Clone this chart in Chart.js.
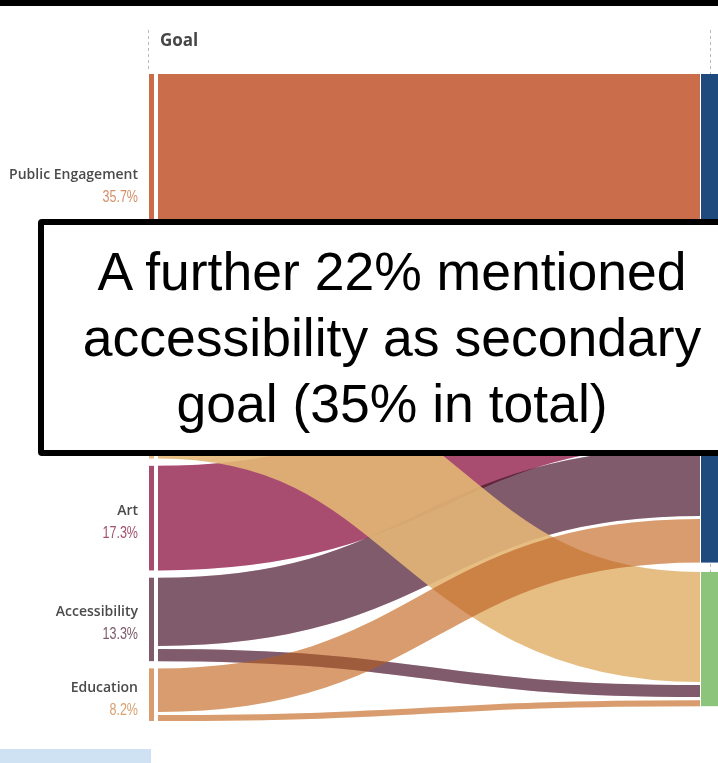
<!DOCTYPE html>
<html><head><meta charset="utf-8">
<script src="https://cdn.jsdelivr.net/npm/chart.js@4/dist/chart.umd.min.js"></script>
<style>
html,body{margin:0;padding:0;width:718px;height:763px;overflow:hidden;background:#fff;}
#stage{position:relative;width:718px;height:763px;}
#chart{position:absolute;left:0;top:0;}
#topbar{position:absolute;left:0;top:0;width:718px;height:6px;background:#000;}
#note{position:absolute;left:38px;top:219px;width:708px;height:237px;box-sizing:border-box;border:6px solid #000;border-radius:4px;background:#fff;
 font-family:"Liberation Sans",Arial,sans-serif;font-size:53.5px;line-height:66px;text-align:center;color:#000;padding-top:14px;white-space:nowrap;}
#strip{position:absolute;left:0;top:749px;width:151px;height:14px;background:#cfe2f3;}
</style></head>
<body>
<div id="stage">
<canvas id="chart" width="718" height="763"></canvas>
<div id="topbar"></div>
<div id="note">A further 22% mentioned<br>accessibility as secondary<br>goal (35% in total)</div>
<div id="strip"></div>
</div>
<script>
// ---- data (percent of respondents) ----
const columnTitle = 'Goal';
// left column: primary goal (the two middle categories are covered by the annotation box)
const goals = ['Public Engagement', '', '', 'Art', 'Accessibility', 'Education'];
const goalShares = [35.7, 7.3, 18.2, 17.3, 13.3, 8.2];
// right column (its labels are cut off at the picture edge)
const secondary = ['Not accessibility', 'Accessibility'];
// flows from each goal to each right-hand node
const toFirst  = [35.7, 7.3, 0, 17.3, 11.3, 7.2];
const toSecond = [0, 0, 18.2, 0, 2.0, 1.0];

// ---- style ----
const goalColors = ['#C96C4A', '#D9A36E', '#E6BE85', '#A84C6F', '#7F5A6A', '#D99C6E'];
const pctColors  = ['#D48E68', '#D8A86A', '#D8A86A', '#A4506F', '#7C5A6A', '#D9A070'];
const secColors  = ['#1F4A7E', '#8DC47B'];
const drawOrder  = [0, 1, 3, 4, 2, 5];
const blendMode  = ['mix', 'mix', 'alpha', 'mix', 'mix', 'mix'];
const LINK_PAD = 0.5, GAP_L = 1.2, GAP_R = 1.55;

// ---- layout in value units ----
const flows = [];
goals.forEach((g, i) => {
  [toFirst[i], toSecond[i]].forEach((v, t) => { if (v > 0) flows.push({s: i, t, v}); });
});
const leftNodes = [];
let y = 0;
goals.forEach((g, i) => {
  const y0 = y; let yy = y;
  flows.filter(f => f.s === i).forEach(f => { f.sy0 = yy; f.sy1 = yy + f.v; yy += f.v + LINK_PAD; });
  const y1 = yy - LINK_PAD;
  leftNodes.push({y0, y1}); y = y1 + GAP_L;
});
const leftTotal = y - GAP_L;
const rightNodes = [];
y = 0;
secondary.forEach((n, t) => {
  const y0 = y; let yy = y;
  flows.filter(f => f.t === t).forEach(f => { f.ty0 = yy; f.ty1 = yy + f.v; yy += f.v + LINK_PAD; });
  const y1 = yy - LINK_PAD;
  rightNodes.push({y0, y1}); y = y1 + GAP_R;
});

function rgb(hex) { return [1, 3, 5].map(p => parseInt(hex.substr(p, 2), 16)); }
const clamp = v => Math.max(0, Math.min(255, Math.round(v)));
// colour that gives `hex` on white after a 50% normal + 50% multiply pass
function mixSrc(hex) { const c = rgb(hex).map(t => clamp(Math.sqrt(1020 * t) - 255)); return `rgb(${c})`; }
// colour that gives `hex` on white at alpha a
function alphaSrc(hex, a) { const c = rgb(hex).map(t => clamp((t - (1 - a) * 255) / a)); return `rgb(${c})`; }

const sankeyPlugin = {
  id: 'sankey',
  beforeDatasetsDraw(chart) {
    const ctx = chart.ctx, xs = chart.scales.x, ys = chart.scales.y;
    const xL = xs.getPixelForValue(0), xR = xs.getPixelForValue(1);
    const fx0 = xL + 9, fx1 = xR - 18, xm = (fx0 + fx1) / 2;
    const top = ys.getPixelForValue(0);
    ctx.save();
    // dashed column guides
    ctx.strokeStyle = '#b8b8b8'; ctx.lineWidth = 1; ctx.setLineDash([3, 3]);
    ctx.beginPath(); ctx.moveTo(xL - 0.5, 30); ctx.lineTo(xL - 0.5, top - 2);
    ctx.moveTo(xR - 7.5, 30); ctx.lineTo(xR - 7.5, ys.getPixelForValue(rightNodes[rightNodes.length-1].y1));
    ctx.stroke(); ctx.setLineDash([]);
    // header
    ctx.fillStyle = '#474747'; ctx.font = '700 17px "Open Sans"'; ctx.textAlign = 'left'; ctx.textBaseline = 'alphabetic';
    ctx.fillText(columnTitle, xL + 11, 46);
    // flows: thick bezier ribbons
    ctx.lineCap = 'butt';
    drawOrder.forEach(s => {
      flows.filter(f => f.s === s).forEach(f => {
        const a = ys.getPixelForValue((f.sy0 + f.sy1) / 2);
        const b = ys.getPixelForValue((f.ty0 + f.ty1) / 2);
        const w = Math.abs(ys.getPixelForValue(f.sy1) - ys.getPixelForValue(f.sy0));
        const passes = blendMode[s] === 'alpha'
          ? [['source-over', 0.9, alphaSrc(goalColors[s], 0.9)]]
          : [['source-over', 0.5, mixSrc(goalColors[s])], ['multiply', 0.5, mixSrc(goalColors[s])]];
        passes.forEach(([op, al, col]) => {
          ctx.globalCompositeOperation = op; ctx.globalAlpha = al;
          ctx.beginPath(); ctx.moveTo(fx0, a); ctx.bezierCurveTo(xm, a, xm, b, fx1, b);
          ctx.strokeStyle = col; ctx.lineWidth = w; ctx.stroke();
        });
      });
    });
    ctx.globalCompositeOperation = 'source-over'; ctx.globalAlpha = 1;
    // nodes
    leftNodes.forEach((n, i) => {
      const p0 = ys.getPixelForValue(n.y0), p1 = ys.getPixelForValue(n.y1);
      ctx.fillStyle = goalColors[i]; ctx.fillRect(xL, p0, 5, p1 - p0);
    });
    rightNodes.forEach((n, i) => {
      const p0 = ys.getPixelForValue(n.y0), p1 = ys.getPixelForValue(n.y1);
      ctx.fillStyle = secColors[i]; ctx.fillRect(xR - 17, p0, 17, p1 - p0);
    });
    // labels
    ctx.textAlign = 'right';
    leftNodes.forEach((n, i) => {
      if (!goals[i]) return;
      const c = (ys.getPixelForValue(n.y0) + ys.getPixelForValue(n.y1)) / 2;
      ctx.fillStyle = '#4a4a4a'; ctx.font = '600 14px "Open Sans"';
      ctx.fillText(goals[i], xL - 11, c - 3);
      ctx.save();
      ctx.translate(xL - 11, c + 20); ctx.scale(0.76, 1);
      ctx.fillStyle = pctColors[i]; ctx.font = '16.5px "Liberation Sans", sans-serif';
      ctx.fillText(goalShares[i] + '%', 0, 0);
      ctx.restore();
    });
    ctx.restore();
  }
};

new Chart(document.getElementById('chart'), {
  type: 'scatter',
  data: { datasets: [{ data: [] }] },
  options: {
    responsive: false, animation: false,
    layout: { padding: { left: 149, right: 0, top: 74, bottom: 42 } },
    plugins: { legend: { display: false }, tooltip: { enabled: false } },
    scales: {
      x: { type: 'linear', min: 0, max: 1, display: false },
      y: { type: 'linear', min: 0, max: leftTotal, reverse: true, display: false }
    }
  },
  plugins: [sankeyPlugin]
});
</script>
</body></html>
